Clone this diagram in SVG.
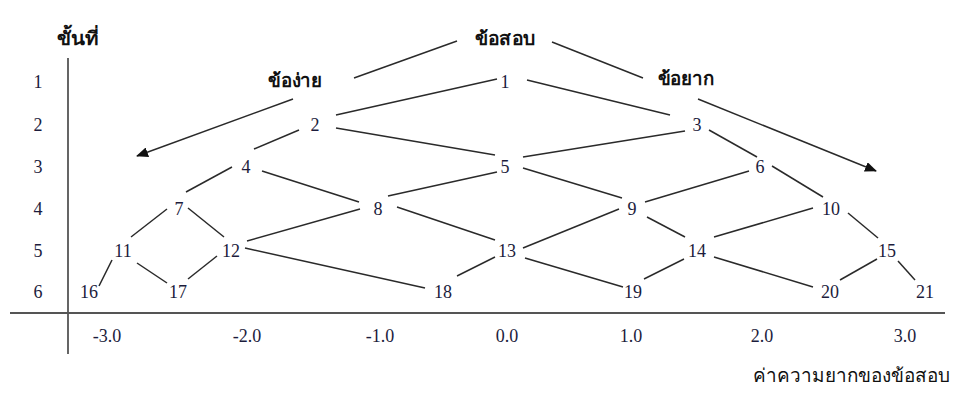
<svg xmlns="http://www.w3.org/2000/svg" width="958" height="394" viewBox="0 0 958 394">
<defs>
<marker id="ah" viewBox="0 0 12 10" refX="11" refY="5" markerWidth="12" markerHeight="10" markerUnits="userSpaceOnUse" orient="auto">
<path d="M0,0 L12,5 L0,10 z" fill="#111"/>
</marker>
<style>
.n{font-family:"Liberation Serif","Times New Roman",serif;font-size:18px;fill:#1c1c3c;text-anchor:middle}
.t{font-family:"Liberation Serif","Noto Sans",serif;font-size:19px;font-weight:bold;fill:#111;text-anchor:middle}
.c{font-family:"Liberation Sans","Noto Sans",sans-serif;font-size:19px;fill:#111}
.e{stroke:#2a2a2a;stroke-width:1.5;fill:none}
.ax{stroke:#555;stroke-width:1.8;fill:none}
</style>
</defs>
<rect width="958" height="394" fill="#fff"/>
<g id="axes">
<line class="ax" x1="68" y1="58" x2="68" y2="354"/>
<line class="ax" x1="10" y1="313" x2="945" y2="313"/>
</g>
<g id="rowlabels">
<text class="t" x="78" y="45" textLength="42" lengthAdjust="spacingAndGlyphs">ขั้นที่</text>
<text class="n" x="38" y="88">1</text>
<text class="n" x="38" y="131">2</text>
<text class="n" x="38" y="173">3</text>
<text class="n" x="38" y="215">4</text>
<text class="n" x="38" y="257">5</text>
<text class="n" x="38" y="298">6</text>
</g>
<g id="xlabels">
<text class="n" x="107" y="342">-3.0</text>
<text class="n" x="247" y="342">-2.0</text>
<text class="n" x="380" y="342">-1.0</text>
<text class="n" x="507" y="342">0.0</text>
<text class="n" x="631" y="342">1.0</text>
<text class="n" x="762" y="342">2.0</text>
<text class="n" x="905" y="342">3.0</text>
<text class="c" x="753" y="382" textLength="197" lengthAdjust="spacingAndGlyphs">ค่าความยากของข้อสอบ</text>
</g>
<g id="connectors">
<line class="e" x1="457" y1="41" x2="354" y2="78"/>
<line class="e" x1="552" y1="42" x2="643" y2="78"/>
<line class="e" x1="293" y1="99" x2="137" y2="156" marker-end="url(#ah)"/>
<line class="e" x1="698" y1="99" x2="876" y2="171" marker-end="url(#ah)"/>
<line class="e" x1="497" y1="79" x2="336" y2="115"/>
<line class="e" x1="527" y1="80" x2="670" y2="115"/>
<line class="e" x1="336" y1="128" x2="495" y2="155"/>
<line class="e" x1="523" y1="157" x2="685" y2="131"/>
<line class="e" x1="299" y1="130" x2="254" y2="149"/>
<line class="e" x1="709" y1="130" x2="757" y2="157"/>
<line class="e" x1="232" y1="167" x2="186" y2="192"/>
<line class="e" x1="262" y1="171" x2="359" y2="202"/>
<line class="e" x1="497" y1="172" x2="388" y2="196"/>
<line class="e" x1="523" y1="168" x2="622" y2="198"/>
<line class="e" x1="749" y1="171" x2="645" y2="202"/>
<line class="e" x1="772" y1="166" x2="823" y2="197"/>
<line class="e" x1="167" y1="209" x2="131" y2="237"/>
<line class="e" x1="188" y1="208" x2="224" y2="237"/>
<line class="e" x1="247" y1="241" x2="360" y2="209"/>
<line class="e" x1="397" y1="207" x2="495" y2="240"/>
<line class="e" x1="523" y1="248" x2="619" y2="209"/>
<line class="e" x1="647" y1="217" x2="685" y2="237"/>
<line class="e" x1="714" y1="237" x2="813" y2="208"/>
<line class="e" x1="848" y1="213" x2="878" y2="238"/>
<line class="e" x1="112" y1="260" x2="99" y2="286"/>
<line class="e" x1="137" y1="263" x2="167" y2="283"/>
<line class="e" x1="188" y1="279" x2="217" y2="256"/>
<line class="e" x1="245" y1="248" x2="425" y2="288"/>
<line class="e" x1="495" y1="257" x2="457" y2="276"/>
<line class="e" x1="525" y1="258" x2="623" y2="287"/>
<line class="e" x1="684" y1="259" x2="644" y2="279"/>
<line class="e" x1="714" y1="257" x2="813" y2="287"/>
<line class="e" x1="877" y1="259" x2="840" y2="280"/>
<line class="e" x1="898" y1="261" x2="915" y2="280"/>
</g>
<g id="title"><text class="t" x="505" y="45" textLength="60" lengthAdjust="spacingAndGlyphs">ข้อสอบ</text></g>
<g id="easy"><text class="t" x="295" y="87" textLength="54" lengthAdjust="spacingAndGlyphs">ข้อง่าย</text></g>
<g id="hard"><text class="t" x="686" y="85" textLength="57" lengthAdjust="spacingAndGlyphs">ข้อยาก</text></g>
<g id="n1"><text class="n" x="505" y="88">1</text></g>
<g id="n2"><text class="n" x="315" y="131">2</text></g>
<g id="n3"><text class="n" x="697" y="131">3</text></g>
<g id="n4"><text class="n" x="246" y="173">4</text></g>
<g id="n5"><text class="n" x="505" y="173">5</text></g>
<g id="n6"><text class="n" x="760" y="173">6</text></g>
<g id="n7"><text class="n" x="179" y="215">7</text></g>
<g id="n8"><text class="n" x="378" y="215">8</text></g>
<g id="n9"><text class="n" x="632" y="215">9</text></g>
<g id="n10"><text class="n" x="831" y="215">10</text></g>
<g id="n11"><text class="n" x="123" y="257">11</text></g>
<g id="n12"><text class="n" x="231" y="257">12</text></g>
<g id="n13"><text class="n" x="507" y="257">13</text></g>
<g id="n14"><text class="n" x="697" y="257">14</text></g>
<g id="n15"><text class="n" x="887" y="257">15</text></g>
<g id="n16"><text class="n" x="89" y="298">16</text></g>
<g id="n17"><text class="n" x="178" y="298">17</text></g>
<g id="n18"><text class="n" x="443" y="298">18</text></g>
<g id="n19"><text class="n" x="633" y="298">19</text></g>
<g id="n20"><text class="n" x="830" y="298">20</text></g>
<g id="n21"><text class="n" x="925" y="298">21</text></g>
</svg>
